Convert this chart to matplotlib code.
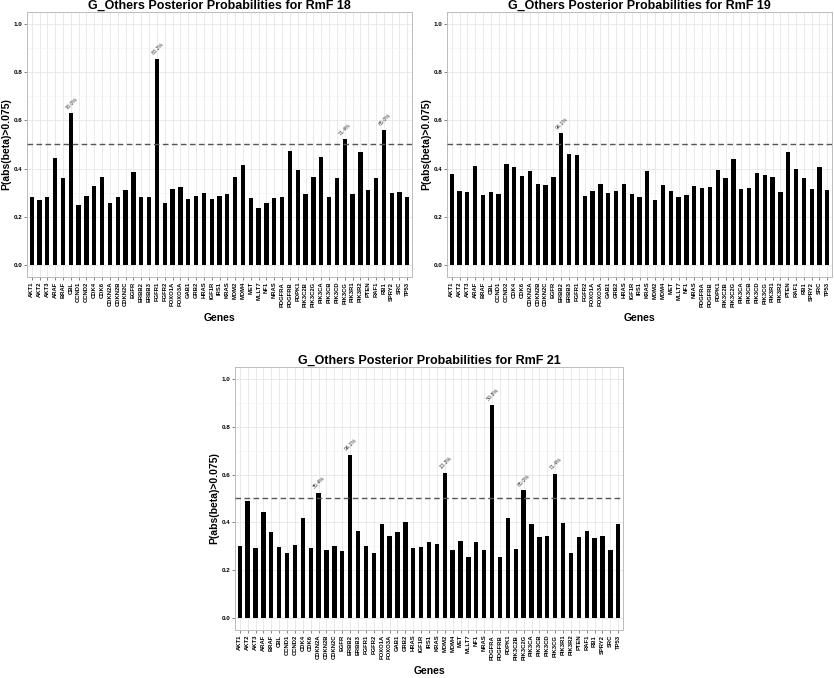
import matplotlib.pyplot as plt
import numpy as np

plt.rcParams['font.family'] = ['Liberation Sans', 'DejaVu Sans']

genes = ['AKT1', 'AKT2', 'AKT3', 'ARAF', 'BRAF', 'CBL', 'CCND1', 'CCND2', 'CDK4', 'CDK6',
         'CDKN2A', 'CDKN2B', 'CDKN2C', 'EGFR', 'ERBB2', 'ERBB3', 'FGFR1', 'FGFR2', 'FOXO1A',
         'FOXO3A', 'GAB1', 'GRB2', 'HRAS', 'IGF1R', 'IRS1', 'KRAS', 'MDM2', 'MDM4', 'MET',
         'MLLT7', 'NF1', 'NRAS', 'PDGFRA', 'PDGFRB', 'PDPK1', 'PIK3C2B', 'PIK3C2G', 'PIK3CA',
         'PIK3CB', 'PIK3CD', 'PIK3CG', 'PIK3R1', 'PIK3R2', 'PTEN', 'RAF1', 'RB1', 'SPRY2',
         'SRC', 'TP53']

rmf18 = [0.284, 0.269, 0.281, 0.445, 0.361, 0.630, 0.247, 0.287, 0.328, 0.367,
         0.256, 0.283, 0.312, 0.385, 0.283, 0.281, 0.856, 0.259, 0.316, 0.325,
         0.274, 0.288, 0.298, 0.274, 0.287, 0.294, 0.366, 0.414, 0.277, 0.237,
         0.259, 0.277, 0.280, 0.474, 0.395, 0.294, 0.364, 0.449, 0.283, 0.361,
         0.522, 0.294, 0.467, 0.310, 0.361, 0.561, 0.299, 0.303, 0.281]

rmf19 = [0.378, 0.309, 0.302, 0.411, 0.291, 0.302, 0.294, 0.418, 0.406, 0.370,
         0.392, 0.338, 0.330, 0.367, 0.546, 0.460, 0.458, 0.288, 0.309, 0.338,
         0.299, 0.305, 0.337, 0.295, 0.281, 0.391, 0.269, 0.331, 0.307, 0.280,
         0.291, 0.327, 0.321, 0.324, 0.395, 0.360, 0.438, 0.317, 0.319, 0.380,
         0.374, 0.366, 0.302, 0.467, 0.399, 0.361, 0.317, 0.407, 0.313]

rmf21 = [0.301, 0.490, 0.295, 0.442, 0.361, 0.298, 0.273, 0.307, 0.420, 0.295,
         0.525, 0.284, 0.303, 0.281, 0.683, 0.363, 0.301, 0.273, 0.393, 0.345,
         0.359, 0.402, 0.295, 0.298, 0.320, 0.310, 0.607, 0.285, 0.323, 0.256,
         0.316, 0.283, 0.891, 0.256, 0.418, 0.288, 0.535, 0.393, 0.341, 0.342,
         0.604, 0.399, 0.273, 0.338, 0.363, 0.334, 0.342, 0.283, 0.393]

# labels above the bars that cross the 0.5 line
notes18 = {'CBL': '78.0%', 'FGFR1': '88.2%', 'PIK3CG': '71.4%', 'RB1': '65.0%'}
notes19 = {'ERBB2': '94.1%'}
notes21 = {'CDKN2A': '35.4%', 'ERBB2': '94.1%', 'MDM2': '13.3%', 'PDGFRA': '50.8%',
           'PIK3C2G': '65.0%', 'PIK3CG': '71.4%'}

W, H = 834, 678
fig = plt.figure(figsize=(W / 100, H / 100), dpi=100)


def panel(px_left, px_top, px_w, px_h, vals, notes, title):
    ax = fig.add_axes([px_left / W, 1 - (px_top + px_h) / H, px_w / W, px_h / H])
    x = np.arange(1, len(genes) + 1)
    ax.bar(x, vals, width=0.55, color='black', zorder=3)
    ax.axhline(0.5, color='#555555', lw=1.0, ls=(0, (4, 2.5)), zorder=4)
    for g, txt in notes.items():
        i = genes.index(g)
        ax.text(x[i] - 0.35, vals[i] + 0.012, txt, rotation=45, rotation_mode='anchor',
                ha='left', va='bottom', fontsize=3.8, color='#333333', zorder=5)
    ax.set_xlim(0.4, len(genes) + 0.6)
    ax.set_ylim(-0.05, 1.05)
    ax.set_xticks(x)
    ax.set_xticklabels(genes, rotation=90, fontsize=4.2, fontweight='bold')
    ax.set_yticks([0.0, 0.2, 0.4, 0.6, 0.8, 1.0])
    ax.set_yticks([0.1, 0.3, 0.5, 0.7, 0.9], minor=True)
    ax.set_yticklabels(['0.0', '0.2', '0.4', '0.6', '0.8', '1.0'], fontsize=4.5, fontweight='bold')
    ax.grid(True, which='major', color='#e6e6e6', lw=0.6, zorder=0)
    ax.grid(True, which='minor', axis='y', color='#f2f2f2', lw=0.4, zorder=0)
    ax.tick_params(axis='both', which='major', length=2, width=0.5, color='#555555', pad=1.5)
    ax.tick_params(axis='y', which='minor', length=0)
    for s in ax.spines.values():
        s.set_color('#bbbbbb')
        s.set_linewidth(0.7)
    ax.set_title(title, fontsize=9, fontweight='bold', pad=2)
    ax.set_xlabel('Genes', fontsize=7.5, fontweight='bold', labelpad=4)
    ax.set_ylabel('P(abs(beta)>0.075)', fontsize=7.5, fontweight='bold', labelpad=1.5)
    return ax


panel(27, 12, 385, 265, rmf18, notes18, 'G_Others Posterior Probabilities for RmF 18')
panel(447, 12, 385, 265, rmf19, notes19, 'G_Others Posterior Probabilities for RmF 19')
panel(235, 367, 388, 263, rmf21, notes21, 'G_Others Posterior Probabilities for RmF 21')

fig.savefig('out.png', dpi=100)
